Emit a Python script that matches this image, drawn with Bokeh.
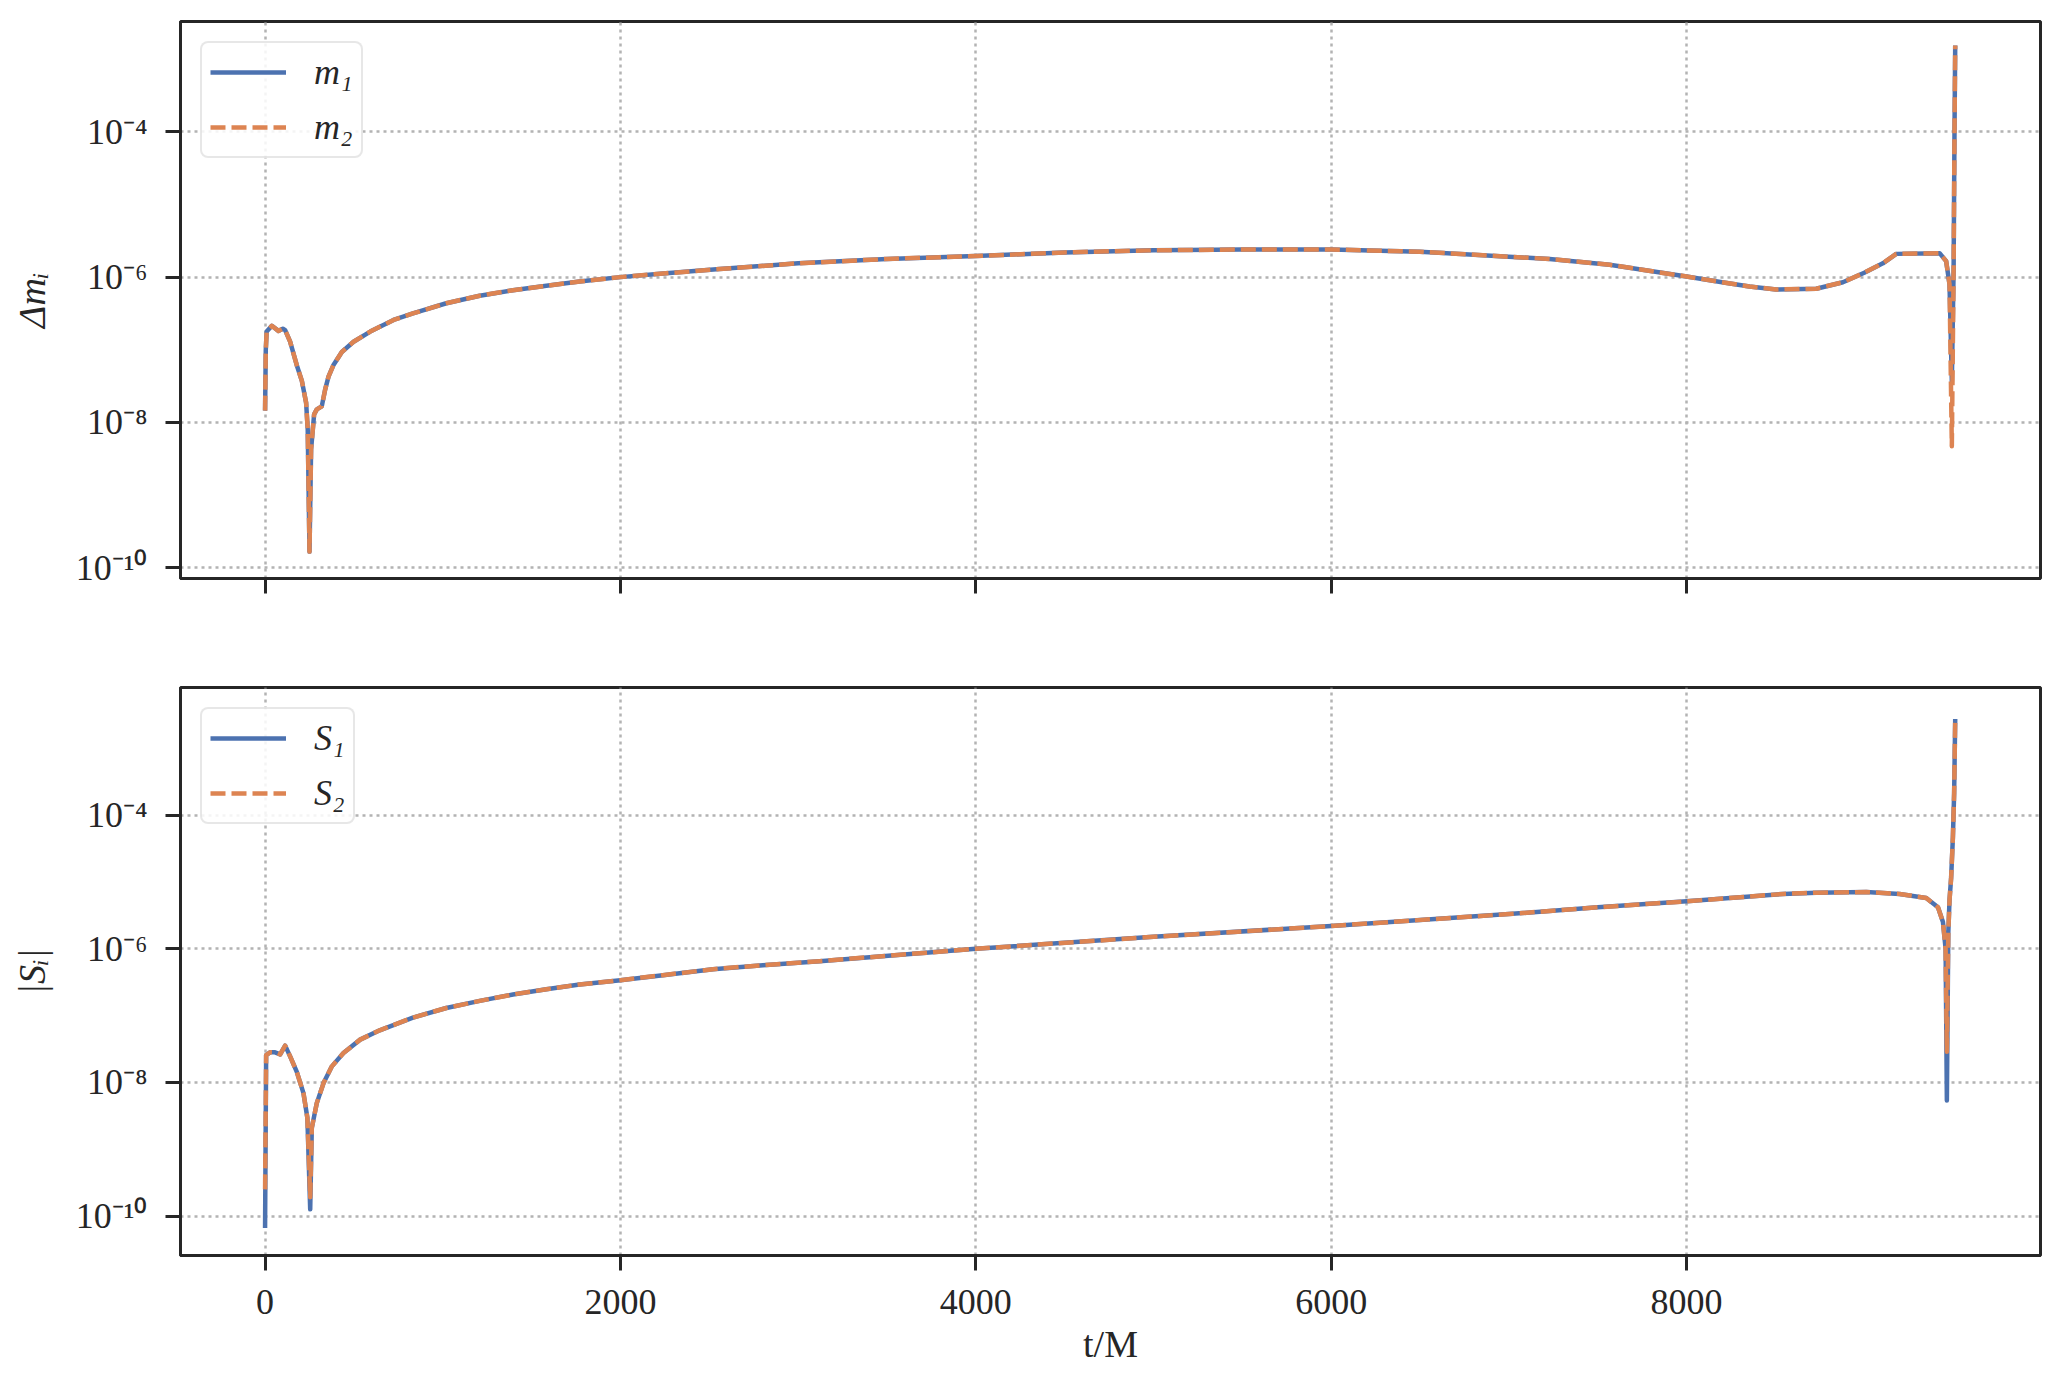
from bokeh.plotting import figure
from bokeh.layouts import column
from bokeh.models import Range1d, FixedTicker, CustomJSTickFormatter, Legend, LegendItem
from bokeh.embed import file_html
from bokeh.resources import INLINE

# ---------------- data ----------------
t_mass = [0, 4, 9, 38, 75, 100, 113, 141, 178, 207, 231, 240, 250, 259, 276, 291, 319, 338,
          357, 385, 432, 498, 592, 723, 832, 1020, 1208, 1395, 1583, 1770, 2000, 2239, 2558,
          3000, 3500, 4000, 4500, 5000, 5500, 6000, 6500, 7000, 7229, 7567, 8000, 8200, 8354,
          8504, 8730, 8880, 9000, 9105, 9180, 9424, 9461, 9480, 9493, 9503, 9508, 9512]
dm1 = [1.45e-8, 1.0e-7, 1.78e-7, 2.14e-7, 1.82e-7, 1.95e-7, 1.86e-7, 1.29e-7, 6.17e-8, 3.72e-8,
       1.86e-8, 7.94e-9, 1.66e-10, 4.27e-9, 1.29e-8, 1.51e-8, 1.66e-8, 2.82e-8, 4.27e-8, 6.17e-8,
       9.33e-8, 1.29e-7, 1.78e-7, 2.57e-7, 3.16e-7, 4.37e-7, 5.55e-7, 6.61e-7, 7.59e-7, 8.71e-7,
       1.0e-6, 1.12e-6, 1.29e-6, 1.55e-6, 1.78e-6, 1.95e-6, 2.19e-6, 2.34e-6, 2.40e-6, 2.40e-6,
       2.24e-6, 1.91e-6, 1.78e-6, 1.48e-6, 1.02e-6, 8.51e-7, 7.41e-7, 6.76e-7, 6.92e-7, 8.51e-7,
       1.15e-6, 1.55e-6, 2.09e-6, 2.14e-6, 1.66e-6, 7.94e-7, 3.63e-8, 1.26e-6, 1.0e-4, 1.55e-3]
dm2 = [1.45e-8, 1.0e-7, 1.78e-7, 2.14e-7, 1.82e-7, 1.95e-7, 1.86e-7, 1.29e-7, 6.17e-8, 3.72e-8,
       1.86e-8, 7.94e-9, 1.66e-10, 4.27e-9, 1.29e-8, 1.51e-8, 1.66e-8, 2.82e-8, 4.27e-8, 6.17e-8,
       9.33e-8, 1.29e-7, 1.78e-7, 2.57e-7, 3.16e-7, 4.37e-7, 5.55e-7, 6.61e-7, 7.59e-7, 8.71e-7,
       1.0e-6, 1.12e-6, 1.29e-6, 1.55e-6, 1.78e-6, 1.95e-6, 2.19e-6, 2.34e-6, 2.40e-6, 2.40e-6,
       2.24e-6, 1.91e-6, 1.78e-6, 1.48e-6, 1.02e-6, 8.51e-7, 7.41e-7, 6.76e-7, 6.92e-7, 8.51e-7,
       1.15e-6, 1.55e-6, 2.09e-6, 2.14e-6, 1.66e-6, 7.94e-7, 4.68e-9, 1.26e-6, 1.0e-4, 1.55e-3]

t_spin = [0, 6, 28, 56, 85, 113, 141, 178, 216, 238, 254, 263, 291, 329, 376, 441, 535, 645,
          832, 1020, 1208, 1395, 1583, 1770, 2000, 2239, 2521, 2802, 3121, 4000, 5000, 6000,
          7000, 7500, 8000, 8542, 8730, 9011, 9199, 9349, 9415, 9443, 9458, 9465, 9473, 9480,
          9489, 9499, 9506, 9512]
s1 = [6.61e-11, 2.57e-8, 2.82e-8, 2.82e-8, 2.63e-8, 3.55e-8, 2.45e-8, 1.45e-8, 6.92e-9, 2.95e-9,
      1.26e-10, 2.09e-9, 4.90e-9, 9.77e-9, 1.74e-8, 2.75e-8, 4.37e-8, 6.03e-8, 9.33e-8, 1.30e-7,
      1.66e-7, 2.07e-7, 2.48e-7, 2.92e-7, 3.39e-7, 4.03e-7, 4.95e-7, 5.69e-7, 6.53e-7, 1.0e-6,
      1.51e-6, 2.19e-6, 3.31e-6, 4.17e-6, 5.13e-6, 6.61e-6, 6.92e-6, 7.08e-6, 6.61e-6, 5.75e-6,
      4.17e-6, 2.51e-6, 1.0e-6, 5.37e-9, 1.70e-6, 5.37e-6, 1.15e-5, 4.68e-5, 2.14e-4, 2.75e-3]
s2 = [2.51e-10, 2.57e-8, 2.82e-8, 2.82e-8, 2.63e-8, 3.55e-8, 2.45e-8, 1.45e-8, 6.92e-9, 2.95e-9,
      1.91e-10, 2.09e-9, 4.90e-9, 9.77e-9, 1.74e-8, 2.75e-8, 4.37e-8, 6.03e-8, 9.33e-8, 1.30e-7,
      1.66e-7, 2.07e-7, 2.48e-7, 2.92e-7, 3.39e-7, 4.03e-7, 4.95e-7, 5.69e-7, 6.53e-7, 1.0e-6,
      1.51e-6, 2.19e-6, 3.31e-6, 4.17e-6, 5.13e-6, 6.61e-6, 6.92e-6, 7.08e-6, 6.61e-6, 5.75e-6,
      4.17e-6, 2.51e-6, 1.0e-6, 2.88e-8, 1.70e-6, 5.37e-6, 1.15e-5, 4.68e-5, 2.14e-4, 2.75e-3]

x_ticks = [0, 2000, 4000, 6000, 8000]
y_ticks = [1e-10, 1e-8, 1e-6, 1e-4]
labels_top = ["m₁", "m₂"]
labels_bottom = ["S₁", "S₂"]
ylabel_top = "Δmᵢ"
ylabel_bottom = "|Sᵢ|"
xlabel = "t/M"

# ---------------- styling ----------------
BLUE = "#4C72B0"
ORANGE = "#DD8452"
DARK = "#262626"
FONT = "Liberation Serif"
LW = 4.5

sup_formatter = CustomJSTickFormatter(code="""
const sup = {'-':'\u207b','0':'\u2070','1':'\u00b9','2':'\u00b2','3':'\u00b3','4':'\u2074',
             '5':'\u2075','6':'\u2076','7':'\u2077','8':'\u2078','9':'\u2079'};
const e = Math.round(Math.log10(tick));
return '10' + String(e).split('').map(c => sup[c]).join('');
""")
blank_formatter = CustomJSTickFormatter(code="return '';")

x_range = Range1d(-476, 9992)


def make_fig(height, y_lo, y_hi, border_top, border_bottom, show_xlabels):
    p = figure(width=2052, height=height, x_range=x_range,
               y_range=Range1d(y_lo, y_hi), y_axis_type="log",
               output_backend="svg", toolbar_location=None,
               min_border_left=180, min_border_right=12,
               min_border_top=border_top, min_border_bottom=border_bottom)
    p.background_fill_color = "white"
    p.border_fill_color = "white"
    p.outline_line_color = DARK
    p.outline_line_width = 3
    for ax in (p.xaxis[0], p.yaxis[0]):
        ax.axis_line_color = DARK
        ax.axis_line_width = 3
        ax.major_tick_line_color = DARK
        ax.major_tick_line_width = 3
        ax.major_tick_out = 15
        ax.major_tick_in = 0
        ax.minor_tick_line_color = None
        ax.major_label_text_font = FONT
        ax.major_label_text_font_size = "36px"
        ax.major_label_text_color = DARK
        ax.axis_label_text_font = FONT
        ax.axis_label_text_color = DARK
        ax.axis_label_text_font_size = "38px"
    p.xaxis.ticker = FixedTicker(ticks=x_ticks, minor_ticks=[])
    p.yaxis.ticker = FixedTicker(ticks=y_ticks, minor_ticks=[])
    p.yaxis.formatter = sup_formatter
    p.yaxis.major_label_standoff = 18
    p.yaxis.axis_label_text_font_style = "italic"
    p.yaxis.axis_label_standoff = 20
    p.xaxis.major_label_standoff = 19
    if not show_xlabels:
        p.xaxis.formatter = blank_formatter
    else:
        p.xaxis.axis_label = xlabel
        p.xaxis.axis_label_text_font_style = "normal"
        p.xaxis.axis_label_standoff = 6
    for g in (p.xgrid[0], p.ygrid[0]):
        g.grid_line_color = "#b3b3b3"
        g.grid_line_width = 2.5
        g.grid_line_dash = "3 4"
    return p


def add_legend(p, r1, r2, labels):
    leg = Legend(items=[LegendItem(label=labels[0], renderers=[r1]),
                        LegendItem(label=labels[1], renderers=[r2])],
                 location="top_left")
    leg.margin = 20
    leg.padding = 8
    leg.spacing = 13
    leg.glyph_width = 76
    leg.glyph_height = 42
    leg.label_height = 42
    leg.label_standoff = 28
    leg.label_text_font = FONT
    leg.label_text_font_style = "italic"
    leg.label_text_font_size = "36px"
    leg.label_text_color = DARK
    leg.border_line_color = "#d0d0d0"
    leg.border_line_width = 2.5
    leg.background_fill_color = "white"
    leg.background_fill_alpha = 0.85
    if "border_radius" in Legend.properties():
        leg.border_radius = 8
    p.add_layout(leg)


# top panel
p1 = make_fig(632, 10 ** -10.15, 10 ** -2.48, 21, 54, False)
p1.yaxis.axis_label = ylabel_top
r1 = p1.line(t_mass, dm1, line_color=BLUE, line_width=LW, line_join="round")
r2 = p1.line(t_mass, dm2, line_color=ORANGE, line_width=LW, line_dash="15 6", line_join="round")
add_legend(p1, r1, r2, labels_top)

# bottom panel
p2 = make_fig(746, 10 ** -10.59, 10 ** -2.09, 55, 123, True)
p2.yaxis.axis_label = ylabel_bottom
r3 = p2.line(t_spin, s1, line_color=BLUE, line_width=LW, line_join="round")
r4 = p2.line(t_spin, s2, line_color=ORANGE, line_width=LW, line_dash="15 6", line_join="round")
add_legend(p2, r3, r4, labels_bottom)

layout = column(p1, p2, spacing=0)
open("out.html", "w").write(file_html(layout, INLINE))
